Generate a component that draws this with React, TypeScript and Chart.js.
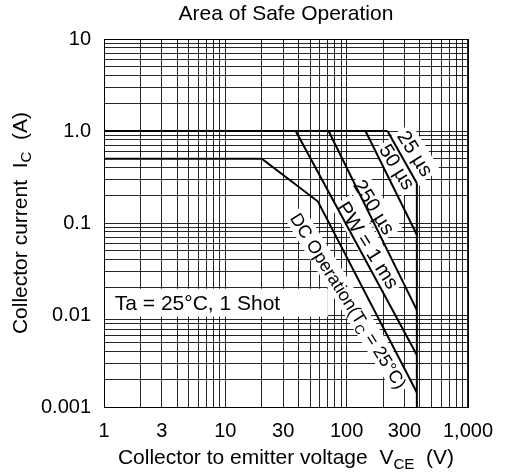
import React, { useEffect, useRef } from 'react';
import { Chart, registerables } from 'chart.js';

Chart.register(...registerables);

const FONT = "'Liberation Sans', Arial, Helvetica, sans-serif";

// ---------------- data ----------------
const chartTitle = 'Area of Safe Operation';
const xTitleParts = [{ t: 'Collector to emitter voltage  V' }, { t: 'CE', sub: true }, { t: '  (V)' }];
const yTitleParts = [{ t: 'Collector current  I' }, { t: 'C', sub: true }, { t: '  (A)' }];

const xTickValues = [1, 3, 10, 30, 100, 300, 1000];
const xTickLabels = ['1', '3', '10', '30', '100', '300', '1,000'];
const yTickValues = [0.001, 0.01, 0.1, 1, 10];
const yTickLabels = ['0.001', '0.01', '0.1', '1.0', '10'];

// pulse ceiling (Ic max pulse)
const ceilingV = [1, 217];
const ceilingI = [1.0, 1.0];
// 25 us
const pw25usV = [217, 379];
const pw25usI = [1.0, 0.271];
// 50 us
const pw50usV = [143, 379];
const pw50usI = [1.0, 0.0744];
// 250 us
const pw250usV = [71, 379];
const pw250usI = [1.0, 0.0113];
// 1 ms
const pw1msV = [38, 379];
const pw1msI = [1.0, 0.00367];
// DC operation
const dcV = [1, 20, 58, 379];
const dcI = [0.5, 0.5, 0.171, 0.00144];
// Vceo limit
const limitV = [379, 379];
const limitI = [0.271, 0.001];

// curve labels (anchor = label centre, in data units)
const curveLabelTexts = [
  [{ t: '25 µs' }],
  [{ t: '50 µs' }],
  [{ t: '250 µs' }],
  [{ t: 'PW = 1 ms' }],
  [{ t: 'DC Operation(T' }, { t: 'C', sub: true }, { t: ' = 25°C)' }],
];
const curveLabelV = [371, 263, 170, 152, 104];
const curveLabelI = [0.574, 0.41, 0.15, 0.0577, 0.0143];
const curveLabelSize = [20, 20, 20, 20, 18];

const noteText = 'Ta = 25°C, 1 Shot';
// -------------------------------------

type Seg = { t: string; sub?: boolean };

function gridValues(minExp: number, maxExp: number): number[] {
  const out: number[] = [];
  for (let k = minExp; k < maxExp; k++) {
    for (let m = 1; m <= 9; m++) out.push(Number((m * Math.pow(10, k)).toPrecision(6)));
  }
  out.push(Number(Math.pow(10, maxExp).toPrecision(6)));
  return out;
}

function labelFor(v: number, vals: number[], labels: string[]): string {
  for (let i = 0; i < vals.length; i++) {
    if (Math.abs(Math.log10(v) - Math.log10(vals[i])) < 1e-6) return labels[i];
  }
  return '';
}

function setFont(ctx: CanvasRenderingContext2D, size: number) {
  ctx.font = `${size}px ${FONT}`;
}

function richWidth(ctx: CanvasRenderingContext2D, segs: Seg[], size: number) {
  let w = 0;
  for (const s of segs) {
    setFont(ctx, s.sub ? size * 0.72 : size);
    w += ctx.measureText(s.t).width;
  }
  return w;
}

function drawRich(ctx: CanvasRenderingContext2D, segs: Seg[], x: number, y: number, size: number, align: 'left' | 'center') {
  const w = richWidth(ctx, segs, size);
  let cx = align === 'center' ? x - w / 2 : x;
  ctx.textAlign = 'left';
  ctx.textBaseline = 'alphabetic';
  for (const s of segs) {
    const sz = s.sub ? size * 0.72 : size;
    setFont(ctx, sz);
    ctx.fillText(s.t, cx, s.sub ? y + size * 0.22 : y);
    cx += ctx.measureText(s.t).width;
  }
  return w;
}

const annotPlugin = {
  id: 'soaAnnotations',
  beforeDatasetsDraw(chart: any) {
    const { ctx, chartArea, scales } = chart;
    const xs = scales.x;
    const ys = scales.y;
    ctx.save();
    ctx.beginPath();
    ctx.rect(chartArea.left, chartArea.top, chartArea.right - chartArea.left, chartArea.bottom - chartArea.top);
    ctx.clip();

    // note box
    const bx0 = chartArea.left + 1;
    const bx1 = xs.getPixelForValue(70);
    const by0 = ys.getPixelForValue(0.0193);
    const by1 = ys.getPixelForValue(0.0096);
    ctx.fillStyle = '#fff';
    ctx.fillRect(bx0, by0, bx1 - bx0, by1 - by0);
    ctx.fillStyle = '#000';
    drawRich(ctx, [{ t: noteText }], xs.getPixelForValue(1.227), (by0 + by1) / 2 + 7, 21, 'left');

    // curve labels
    const ang = (58 * Math.PI) / 180;
    for (let i = 0; i < curveLabelTexts.length; i++) {
      const size = curveLabelSize[i];
      const px = xs.getPixelForValue(curveLabelV[i]);
      const py = ys.getPixelForValue(curveLabelI[i]);
      const segs = curveLabelTexts[i] as Seg[];
      const w = richWidth(ctx, segs, size);
      ctx.save();
      ctx.translate(px, py);
      ctx.rotate(ang);
      ctx.fillStyle = '#fff';
      ctx.fillRect(-w / 2 - 3, -size / 2 - 2, w + 6, size + 4);
      ctx.fillStyle = '#000';
      drawRich(ctx, segs, 0, size * 0.36, size, 'center');
      ctx.restore();
    }
    ctx.restore();
  },
  afterDraw(chart: any) {
    const { ctx, chartArea } = chart;
    const cx = (chartArea.left + chartArea.right) / 2;
    const cy = (chartArea.top + chartArea.bottom) / 2;
    ctx.save();
    ctx.fillStyle = '#000';
    ctx.strokeStyle = '#000';
    ctx.lineWidth = 1;
    ctx.strokeRect(Math.round(chartArea.left) + 0.5, Math.round(chartArea.top) + 0.5,
      Math.round(chartArea.right - chartArea.left), Math.round(chartArea.bottom - chartArea.top));
    drawRich(ctx, [{ t: chartTitle }], cx, 20, 21, 'center');
    drawRich(ctx, xTitleParts as Seg[], cx, 464, 21, 'center');
    ctx.translate(19, cy);
    ctx.rotate(-Math.PI / 2);
    drawRich(ctx, yTitleParts as Seg[], 0, 7.5, 21, 'center');
    ctx.restore();
  },
};

function pts(xv: number[], yv: number[]) {
  return xv.map((v, i) => ({ x: v, y: yv[i] }));
}

export default function App() {
  const ref = useRef<HTMLCanvasElement>(null);
  useEffect(() => {
    document.body.style.margin = '0';
    const canvas = ref.current!;
    const lineStyle = { borderColor: '#000', borderWidth: 2, pointRadius: 0, fill: false, tension: 0 };
    const xGrid = gridValues(0, 3);
    const yGrid = gridValues(-3, 1);
    const chart = new Chart(canvas, {
      type: 'line',
      data: {
        datasets: [
          { label: 'ceiling', data: pts(ceilingV, ceilingI), ...lineStyle },
          { label: '25us', data: pts(pw25usV, pw25usI), ...lineStyle },
          { label: '50us', data: pts(pw50usV, pw50usI), ...lineStyle },
          { label: '250us', data: pts(pw250usV, pw250usI), ...lineStyle },
          { label: '1ms', data: pts(pw1msV, pw1msI), ...lineStyle },
          { label: 'DC', data: pts(dcV, dcI), ...lineStyle },
          { label: 'limit', data: pts(limitV, limitI), ...lineStyle },
        ],
      },
      options: {
        responsive: false,
        animation: false,
        devicePixelRatio: 1,
        layout: { padding: { top: 39, right: 30, left: 0, bottom: 0 } },
        plugins: {
          legend: { display: false },
          tooltip: { enabled: false },
          title: { display: false },
        },
        scales: {
          x: {
            type: 'logarithmic',
            min: 1,
            max: 1000,
            afterBuildTicks: (s: any) => {
              s.ticks = xGrid.map((v) => ({ value: v }));
            },
            afterFit: (s: any) => {
              s.height = 69;
            },
            grid: { color: 'rgba(0,0,0,0.85)', lineWidth: 1, drawTicks: false },
            border: { display: true, color: '#000', width: 1 },
            ticks: {
              autoSkip: false,
              maxRotation: 0,
              minRotation: 0,
              padding: 12,
              color: '#000',
              font: { family: FONT, size: 20 },
              callback: (v: any) => labelFor(Number(v), xTickValues, xTickLabels),
            },
          },
          y: {
            type: 'logarithmic',
            min: 0.001,
            max: 10,
            afterBuildTicks: (s: any) => {
              s.ticks = yGrid.map((v) => ({ value: v }));
            },
            afterFit: (s: any) => {
              s.width = 104;
            },
            grid: { color: 'rgba(0,0,0,0.85)', lineWidth: 1, drawTicks: false },
            border: { display: true, color: '#000', width: 1 },
            ticks: {
              autoSkip: false,
              padding: 13,
              color: '#000',
              font: { family: FONT, size: 20 },
              callback: (v: any) => labelFor(Number(v), yTickValues, yTickLabels),
            },
          },
        },
      },
      plugins: [annotPlugin],
    } as any);
    return () => chart.destroy();
  }, []);
  return (
    <div style={{ width: 505, height: 476 }}>
      <canvas ref={ref} width={505} height={476} style={{ display: 'block' }} />
    </div>
  );
}
